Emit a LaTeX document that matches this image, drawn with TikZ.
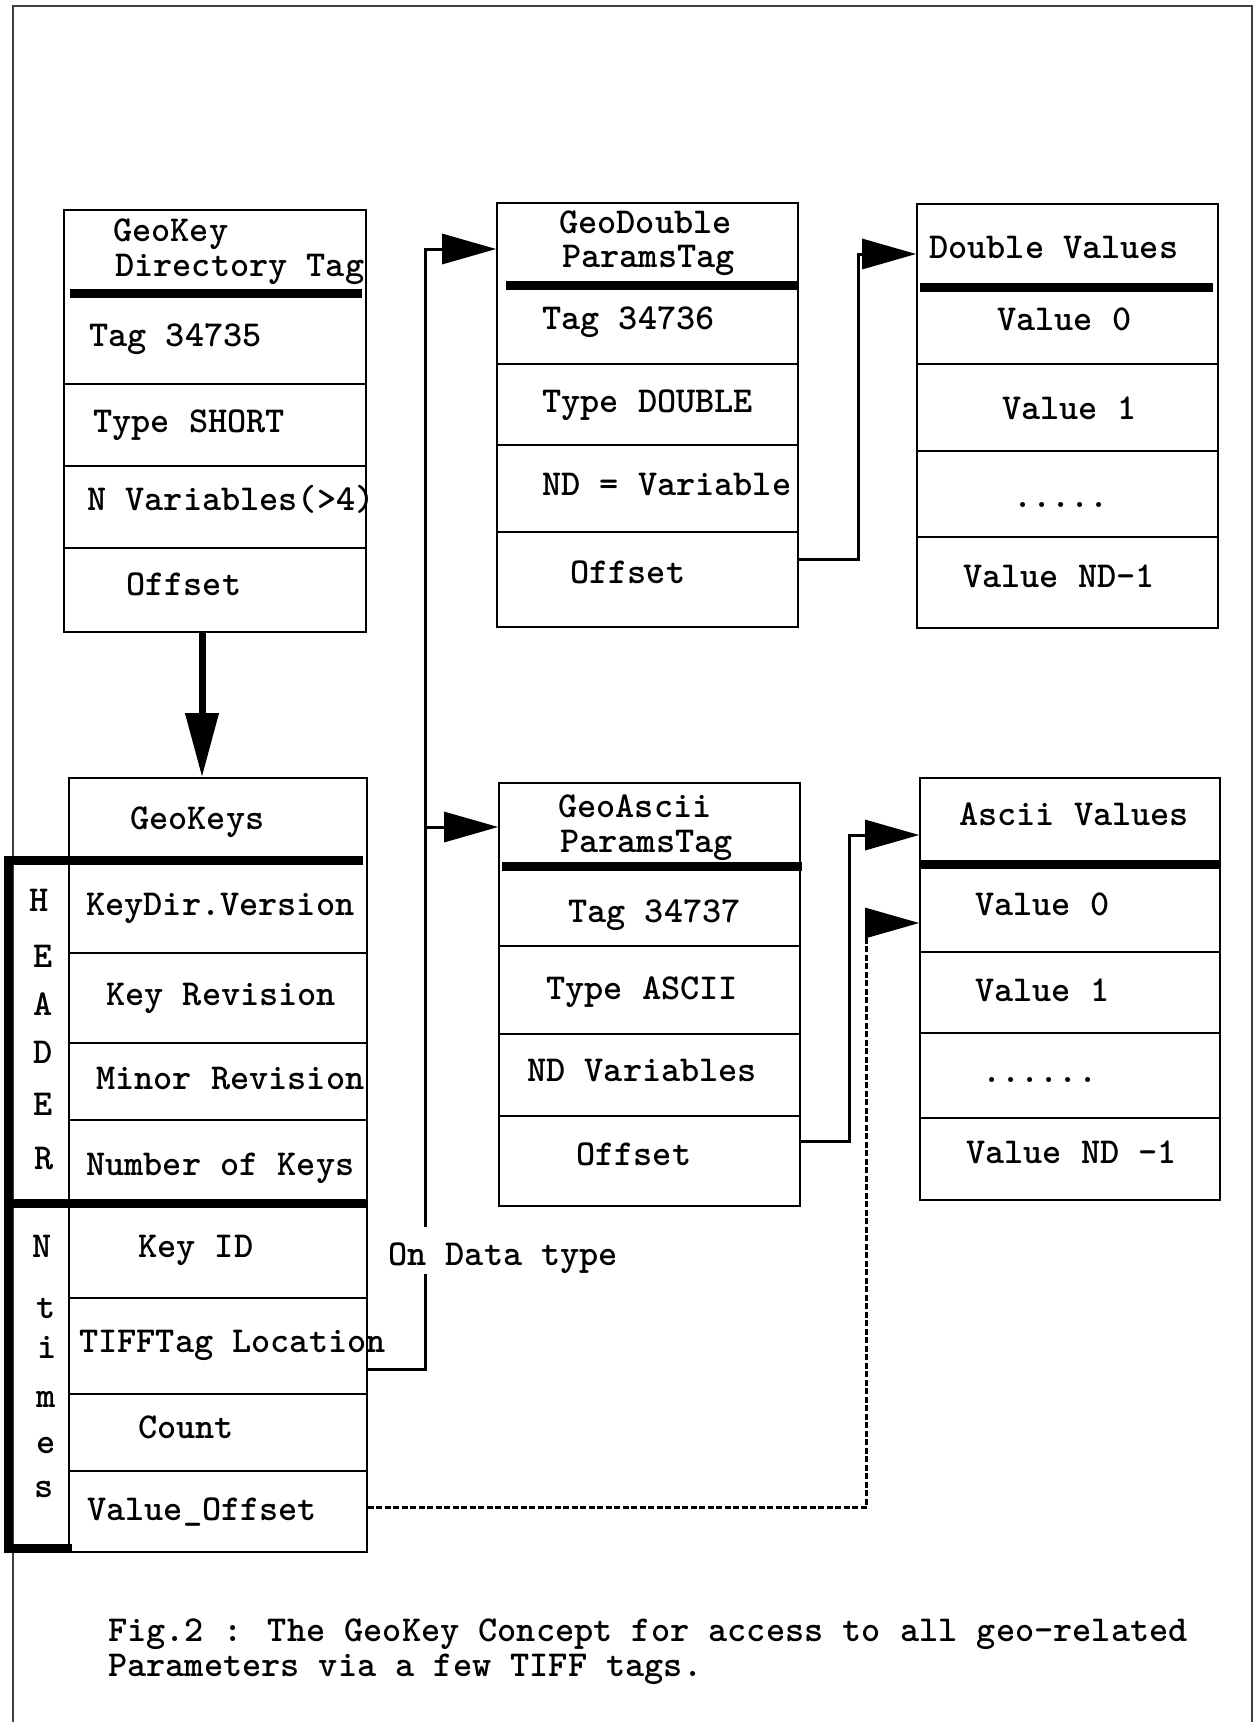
\documentclass[tikz,border=0pt]{standalone}
\usepackage{fontspec}
\usetikzlibrary{arrows.meta}

\tikzset{
  every node/.style={font=\ttfamily\bfseries\fontsize{36.5}{36.5}\selectfont},
  box/.style={draw, line width=1.6pt, inner sep=0pt},
  entry/.style={anchor=base west, inner sep=0pt},
  letter/.style={anchor=base, inner sep=0pt},
  rowline/.style={line width=1.6pt},
  bar/.style={line width=9pt},
  link/.style={line width=3pt, -{Triangle[length=54pt,width=30pt]}},
  drop/.style={line width=7pt, -{Triangle[length=64pt,width=32pt]}},
  hint/.style={link, line width=3pt, dash pattern=on 6pt off 2.5pt},
  frame/.style={line width=2.5pt, black!75}
}

\begin{document}
\begin{tikzpicture}[x=1pt, y=-1pt]
  \useasboundingbox (0,0) rectangle (1259,1722);
  \draw[frame] (13,1722) -- (13,6) -- (1252,6) -- (1252,1722);

  % the six tables
  \node (dir) at (215,421) [box, minimum width=302pt, minimum height=422pt] {};
  \node (keys) at (218,1165) [box, minimum width=298pt, minimum height=774pt] {};
  \node (dbl) at (647.5,415) [box, minimum width=301pt, minimum height=424pt] {};
  \node (dval) at (1067.5,416) [box, minimum width=301pt, minimum height=424pt] {};
  \node (asc) at (649.5,994.5) [box, minimum width=301pt, minimum height=423pt] {};
  \node (aval) at (1070,989) [box, minimum width=300pt, minimum height=422pt] {};

  % row lines
  \foreach \y in {384,466,548} \draw[rowline] (dir.west |- 0,\y) -- (dir.east |- 0,\y);
  \foreach \y in {953,1043,1120,1298,1394,1471} \draw[rowline] (keys.west |- 0,\y) -- (keys.east |- 0,\y);
  \foreach \y in {364,445,532} \draw[rowline] (dbl.west |- 0,\y) -- (dbl.east |- 0,\y);
  \foreach \y in {364,451,537} \draw[rowline] (dval.west |- 0,\y) -- (dval.east |- 0,\y);
  \foreach \y in {946,1034,1116} \draw[rowline] (asc.west |- 0,\y) -- (asc.east |- 0,\y);
  \foreach \y in {952,1033,1118} \draw[rowline] (aval.west |- 0,\y) -- (aval.east |- 0,\y);

  % heavy bars under the titles
  \draw[bar] (70,293) -- (362,293);
  \draw[bar] (506,285) -- (798,285);
  \draw[bar] (920,287) -- (1213,287);
  \draw[bar] (502,866) -- (802,866);
  \draw[bar] (920,864) -- (1220,864);
  \draw[bar] (5,860) -- (363,860);
  \draw[bar] (13,1203) -- (367,1203);
  \draw[bar] (8.5,856) -- (8.5,1548) -- (72,1548);

  % entries
  \foreach \x/\y/\t [count=\i] in {113/241/GeoKey, 115/276/Directory Tag,
      89/346/Tag 34735, 93/432/Type SHORT, 87/510/N Variables(>4), 126/595/Offset}
    \node (dir\i) at (\x,\y) [entry] {\t};
  \foreach \x/\y/\t [count=\i] in {130/829/GeoKeys, 86/915/KeyDir.Version,
      106/1005/Key Revision, 96/1089/Minor Revision, 86/1175/Number of Keys,
      138/1257/Key ID, 79/1352/TIFFTag Location, 138/1438/Count, 87/1520/Value\_Offset}
    \node (keys\i) at (\x,\y) [entry] {\t};
  \foreach \x/\y/\t [count=\i] in {39/911/H, 43/967/E, 43/1015/A, 43/1063/D, 43/1115/E, 44/1169/R}
    \node (hdr\i) at (\x,\y) [letter] {\t};
  \foreach \x/\y/\t [count=\i] in {42/1257/N, 46/1318/t, 47/1358/i, 46/1407/m, 46/1453/e, 44/1497/s}
    \node (ntm\i) at (\x,\y) [letter] {\t};
  \foreach \x/\y/\t [count=\i] in {559/233/GeoDouble, 562/267/ParamsTag,
      542/329/Tag 34736, 542/412/Type DOUBLE, 542/495/ND = Variable, 570/583/Offset}
    \node (dbl\i) at (\x,\y) [entry] {\t};
  \foreach \x/\y/\t [count=\i] in {929/258/Double Values, 997/330/Value 0,
      1002/419/Value 1, 963/587/Value ND-1}
    \node (dval\i) at (\x,\y) [entry] {\t};
  \node (dvaldots) at (1013,507) [entry] {.....};
  \foreach \x/\y/\t [count=\i] in {558/817/GeoAscii, 560/852/ParamsTag,
      568/922/Tag 34737, 546/999/Type ASCII, 527/1081/ND Variables, 576/1165/Offset}
    \node (asc\i) at (\x,\y) [entry] {\t};
  \foreach \x/\y/\t [count=\i] in {959/825/Ascii Values, 975/915/Value 0,
      975/1001/Value 1, 966/1163/Value ND -1}
    \node (aval\i) at (\x,\y) [entry] {\t};
  \node (avaldots) at (982,1082) [entry] {......};

  % connectors
  \draw[drop] ([xshift=-13pt]dir.south) -- ([xshift=-16pt]keys.north);
  \coordinate (turn) at ([xshift=58pt,yshift=-204pt]keys.east);
  \coordinate (ascin) at ([yshift=167.5pt]asc.west);
  \draw[link] ([yshift=-204pt]keys.east) -- (turn) |- ([yshift=166pt]dbl.west);
  \draw[link] (turn |- ascin) -- (ascin);
  \node (ondata) at (388,1265) [entry, fill=white, text height=38pt, text depth=9pt] {On Data type};
  \draw[link] ([yshift=-144pt]dbl.east) -- ++(60,0) |- ([yshift=162pt]dval.west);
  \draw[link] ([yshift=-146.5pt]asc.east) -- ++(49,0) |- ([yshift=154pt]aval.west);
  \draw[hint] ([yshift=-342pt]keys.east) -- ++(499,0) |- ([yshift=66pt]aval.west);

  % caption
  \node (cap1) at (108,1641) [entry] {Fig.2 : The GeoKey Concept for access to all geo-related};
  \node (cap2) at (108,1676) [entry] {Parameters via a few TIFF tags.};
\end{tikzpicture}
\end{document}
